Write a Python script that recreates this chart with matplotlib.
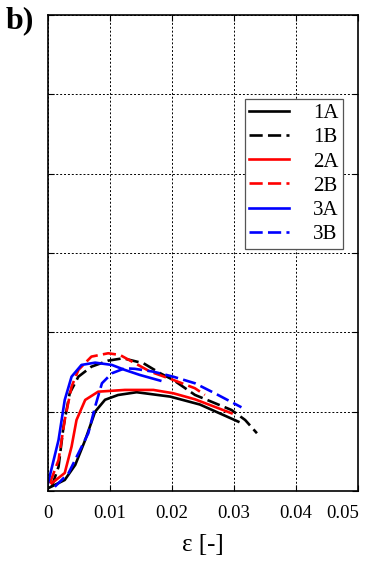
import matplotlib
matplotlib.use("Agg")
import matplotlib.pyplot as plt
from matplotlib.transforms import ScaledTranslation

# strain values and stress (grid units)
x_1A = [0.0000, 0.0027, 0.0044, 0.0060, 0.0076, 0.0092, 0.0113, 0.0143, 0.0197, 0.0245, 0.0307]
y_1A = [0.034, 0.139, 0.330, 0.643, 1.000, 1.150, 1.210, 1.245, 1.190, 1.090, 0.874]

x_1B = [0.0006, 0.0017, 0.0025, 0.0035, 0.0049, 0.0070, 0.0097, 0.0121, 0.0154, 0.0181, 0.0202, 0.0237, 0.0296, 0.0318, 0.0337]
y_1B = [0.054, 0.306, 0.811, 1.232, 1.441, 1.567, 1.643, 1.673, 1.610, 1.484, 1.400, 1.211, 1.021, 0.895, 0.728]

x_2A = [0.0006, 0.0027, 0.0038, 0.0046, 0.0060, 0.0081, 0.0124, 0.0170, 0.0202, 0.0237, 0.0296]
y_2A = [0.097, 0.227, 0.559, 0.895, 1.148, 1.252, 1.274, 1.274, 1.232, 1.156, 0.980]

x_2B = [0.0003, 0.0017, 0.0027, 0.0038, 0.0049, 0.0070, 0.0097, 0.0116, 0.0165, 0.0202, 0.0237, 0.0253]
y_2B = [0.097, 0.391, 0.895, 1.315, 1.526, 1.694, 1.736, 1.715, 1.504, 1.400, 1.295, 1.211]

x_3A = [0.0000, 0.0017, 0.0027, 0.0038, 0.0054, 0.0076, 0.0103, 0.0124, 0.0148, 0.0181]
y_3A = [0.097, 0.643, 1.148, 1.441, 1.589, 1.618, 1.589, 1.526, 1.463, 1.391]

x_3B = [0.0011, 0.0033, 0.0049, 0.0065, 0.0076, 0.0087, 0.0103, 0.0124, 0.0140, 0.0170, 0.0202, 0.0237, 0.0269, 0.0312]
y_3B = [0.054, 0.223, 0.475, 0.728, 1.063, 1.358, 1.484, 1.547, 1.540, 1.504, 1.441, 1.358, 1.232, 1.055]

x_ticks = [0, 0.01, 0.02, 0.03, 0.04, 0.05]
x_ticklabels = ["0", "0.01", "0.02", "0.03", "0.04", "0.05"]
y_ticks = [0, 1, 2, 3, 4, 5, 6]

plt.rcParams['font.family'] = ['Liberation Serif', 'DejaVu Serif']

fig = plt.figure(figsize=(3.68, 5.61), dpi=100)
ax = fig.add_axes([48/368, 70/561, 310/368, 476/561])

lw = 1.9
dash = (0, (5, 2))
ax.plot(x_1A, y_1A, color='black', lw=lw, ls='-', label='1A')
ax.plot(x_1B, y_1B, color='black', lw=lw, ls=dash, label='1B')
ax.plot(x_2A, y_2A, color='red', lw=lw, ls='-', label='2A')
ax.plot(x_2B, y_2B, color='red', lw=lw, ls=dash, label='2B')
ax.plot(x_3A, y_3A, color='blue', lw=lw, ls='-', label='3A')
ax.plot(x_3B, y_3B, color='blue', lw=lw, ls=dash, label='3B')

ax.set_xlim(0, 0.05)
ax.set_ylim(0, 6)
ax.set_xticks(x_ticks)
ax.set_xticklabels(x_ticklabels)
ax.set_yticks(y_ticks)
ax.set_yticklabels([])
ax.tick_params(direction='in', length=4, width=0.8, top=True, right=True,
               labelsize=13.5, pad=10)
# last label pulled left so it stays inside the figure
last = ax.get_xticklabels()[-1]
last.set_transform(last.get_transform() + ScaledTranslation(-15/100, 0, fig.dpi_scale_trans))
ax.grid(True, color='black', ls=(0, (2, 2)), lw=0.7)
for s in ax.spines.values():
    s.set_linewidth(1.2)

ax.set_xlabel('ε [-]', fontsize=18, labelpad=9)

leg = ax.legend(loc='upper right', bbox_to_anchor=(0.952, 0.8235), borderaxespad=0,
                fancybox=False, frameon=True, fontsize=15, handlelength=1.9,
                handletextpad=1.15, labelspacing=0.22, borderpad=0.22)
leg.get_frame().set_edgecolor('#555555')
leg.get_frame().set_linewidth(0.9)
leg.get_frame().set_alpha(1)

fig.text(6/368, 1 - 6/561, 'b)', fontsize=23, fontweight='bold', va='top', ha='left')

fig.savefig('out.png', dpi=100)
